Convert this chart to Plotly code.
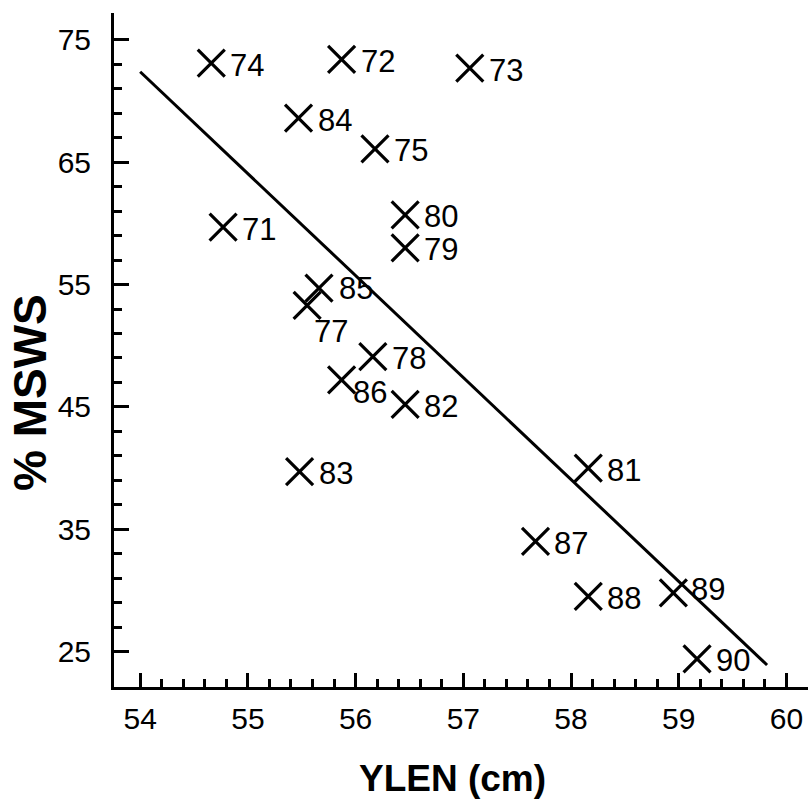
import plotly.graph_objects as go
import numpy as np

# ---- data ----
years = ["71", "72", "73", "74", "75", "77", "78", "79", "80", "81",
         "82", "83", "84", "85", "86", "87", "88", "89", "90"]
ylen = [54.77, 55.87, 57.06, 54.66, 56.18, 55.55, 56.16, 56.46, 56.46, 58.16,
        56.46, 55.48, 55.47, 55.66, 55.87, 57.67, 58.16, 58.95, 59.17]
msws = [59.7, 73.4, 72.7, 73.1, 66.1, 53.3, 49.1, 58.0, 60.7, 40.0,
        45.2, 39.7, 68.6, 54.7, 47.2, 34.0, 29.5, 29.8, 24.4]

fit_x = [54.0, 59.82]
fit_y = [72.4, 23.9]

x_ticks = [54, 55, 56, 57, 58, 59, 60]
y_ticks = [25, 35, 45, 55, 65, 75]

# label offsets in pixels (dx, dy) for labels not in default place
label_offset_default = (17, -2)
label_offset = {"77": (5, -26), "86": (9, -13), "89": (16, 3), "85": (18, 0)}

FONT = "Liberation Sans, Arial, Helvetica, sans-serif"

fig = go.Figure()
fig.add_trace(go.Scatter(x=fit_x, y=fit_y, mode="lines",
                         line=dict(color="black", width=3), hoverinfo="skip"))
fig.add_trace(go.Scatter(x=ylen, y=msws, mode="markers",
                         marker=dict(symbol="x-thin-open", size=27, color="black",
                                     line=dict(color="black", width=3.2))))

for yr, xv, yv in zip(years, ylen, msws):
    dx, dy = label_offset.get(yr, label_offset_default)
    fig.add_annotation(x=xv, y=yv, xref="x", yref="y", text=yr, showarrow=False,
                       xanchor="left", yanchor="middle", xshift=dx, yshift=dy,
                       font=dict(family=FONT, size=31, color="black"))

x_minor = [v for v in np.round(np.arange(54.2, 60.0, 0.2), 1) if abs(v - round(v)) > 1e-6]
y_minor = [v for v in range(27, 75, 2) if (v - 25) % 10 != 0]

fig.update_xaxes(range=[53.757, 60.2], tickvals=x_ticks, ticktext=[str(t) for t in x_ticks],
                 ticks="inside", ticklen=14, tickwidth=2.6, tickcolor="black",
                 showline=True, linewidth=3, linecolor="black", showgrid=False, zeroline=False,
                 tickfont=dict(family=FONT, size=30, color="black"), ticklabelstandoff=3,
                 minor=dict(tickvals=x_minor, ticks="inside", ticklen=8, tickwidth=2.6,
                            tickcolor="black", showgrid=False))
fig.update_yaxes(range=[22.1, 77.2], tickvals=y_ticks, ticktext=[str(t) for t in y_ticks],
                 ticks="inside", ticklen=15, tickwidth=2.6, tickcolor="black",
                 showline=True, linewidth=3, linecolor="black", showgrid=False, zeroline=False,
                 tickfont=dict(family=FONT, size=30, color="black"), ticklabelstandoff=14,
                 minor=dict(tickvals=y_minor, ticks="inside", ticklen=8, tickwidth=2.6,
                            tickcolor="black", showgrid=False))

fig.add_annotation(text="<b>YLEN (cm)</b>", xref="paper", yref="paper",
                   x=(452 - 114) / 694, y=-(778 - 687) / 674, showarrow=False,
                   xanchor="center", yanchor="middle",
                   font=dict(family=FONT, size=37, color="black"))
fig.add_annotation(text="<b>% MSWS</b>", xref="paper", yref="paper",
                   x=(30 - 114) / 694, y=(687 - 393) / 674, showarrow=False, textangle=-90,
                   xanchor="center", yanchor="middle",
                   font=dict(family=FONT, size=46, color="black"))

fig.update_layout(width=811, height=805, margin=dict(l=114, r=3, t=13, b=118),
                  plot_bgcolor="white", paper_bgcolor="white", showlegend=False)

fig.write_html("out.html")
